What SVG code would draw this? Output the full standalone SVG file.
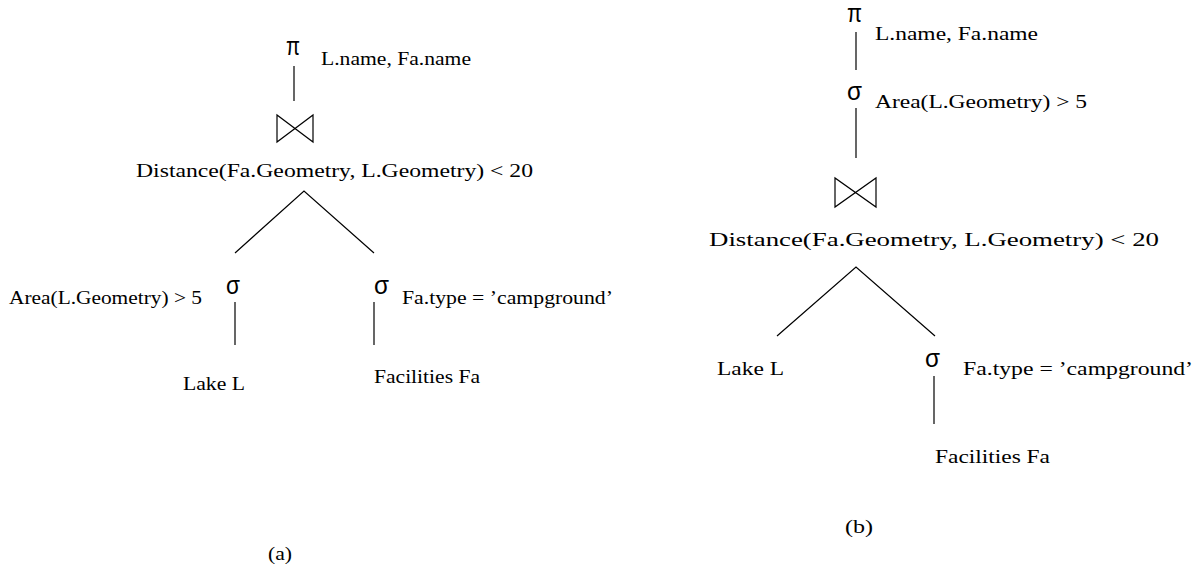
<svg xmlns="http://www.w3.org/2000/svg" width="1202" height="571" viewBox="0 0 1202 571">
  <style>
    .t { font-family: "Liberation Serif", "Times New Roman", serif; font-size: 19px; fill: #000; }
    .op { font-family: "Liberation Sans", Arial, sans-serif; font-size: 25px; fill: #000; }
    .ln { stroke: #000; stroke-width: 1.2; fill: none; }
  </style>
  <rect width="1202" height="571" fill="#fff"/>

  <!-- ===== Plan (a) ===== -->
  <g id="a-project">
    <text class="op" x="286" y="55" textLength="14" lengthAdjust="spacingAndGlyphs">π</text>
    <text class="t" x="321" y="65" textLength="150" lengthAdjust="spacingAndGlyphs">L.name, Fa.name</text>
  </g>
  <g id="a-join">
    <path class="ln" d="M277,115 L277,142 L313,115 L313,142 Z"/>
    <text class="t" x="136" y="177" textLength="397" lengthAdjust="spacingAndGlyphs">Distance(Fa.Geometry, L.Geometry) &lt; 20</text>
  </g>
  <g id="a-select-lake">
    <text class="op" x="226" y="294" textLength="14" lengthAdjust="spacingAndGlyphs">σ</text>
    <text class="t" x="9" y="304" textLength="193" lengthAdjust="spacingAndGlyphs">Area(L.Geometry) &gt; 5</text>
  </g>
  <g id="a-select-fac">
    <text class="op" x="374" y="294" textLength="15" lengthAdjust="spacingAndGlyphs">σ</text>
    <text class="t" x="402" y="304" textLength="211" lengthAdjust="spacingAndGlyphs">Fa.type = ’campground’</text>
  </g>
  <g id="a-lake">
    <text class="t" x="183" y="390" textLength="62" lengthAdjust="spacingAndGlyphs">Lake L</text>
  </g>
  <g id="a-facilities">
    <text class="t" x="374" y="383" textLength="106" lengthAdjust="spacingAndGlyphs">Facilities Fa</text>
  </g>
  <g id="a-caption">
    <text class="t" x="268" y="560" textLength="24" lengthAdjust="spacingAndGlyphs">(a)</text>
  </g>

  <!-- ===== Plan (b) ===== -->
  <g id="b-project">
    <text class="op" x="847" y="22" textLength="15" lengthAdjust="spacingAndGlyphs">π</text>
    <text class="t" x="875" y="40" textLength="163" lengthAdjust="spacingAndGlyphs">L.name, Fa.name</text>
  </g>
  <g id="b-select-lake">
    <text class="op" x="847" y="100" textLength="15" lengthAdjust="spacingAndGlyphs">σ</text>
    <text class="t" x="875" y="108" textLength="212" lengthAdjust="spacingAndGlyphs">Area(L.Geometry) &gt; 5</text>
  </g>
  <g id="b-join">
    <path class="ln" d="M835,178 L835,207 L876,178 L876,207 Z"/>
    <text class="t" x="709" y="246" textLength="450" lengthAdjust="spacingAndGlyphs">Distance(Fa.Geometry, L.Geometry) &lt; 20</text>
  </g>
  <g id="b-lake">
    <text class="t" x="717" y="375" textLength="67" lengthAdjust="spacingAndGlyphs">Lake L</text>
  </g>
  <g id="b-select-fac">
    <text class="op" x="925" y="367" textLength="15" lengthAdjust="spacingAndGlyphs">σ</text>
    <text class="t" x="963" y="375" textLength="230" lengthAdjust="spacingAndGlyphs">Fa.type = ’campground’</text>
  </g>
  <g id="b-facilities">
    <text class="t" x="935" y="463" textLength="115" lengthAdjust="spacingAndGlyphs">Facilities Fa</text>
  </g>
  <g id="b-caption">
    <text class="t" x="845" y="533" textLength="28" lengthAdjust="spacingAndGlyphs">(b)</text>
  </g>

  <!-- ===== Tree edges ===== -->
  <g id="connectors" class="ln">
    <!-- plan (a) -->
    <line x1="294" y1="66" x2="294" y2="101"/>
    <polyline points="235,253 304,191 374,253"/>
    <line x1="235" y1="302" x2="235" y2="345"/>
    <line x1="374" y1="302" x2="374" y2="345"/>
    <!-- plan (b) -->
    <line x1="856" y1="32" x2="856" y2="70"/>
    <line x1="856" y1="108" x2="856" y2="158"/>
    <polyline points="777,336 856,267 935,336"/>
    <line x1="934" y1="376" x2="934" y2="424"/>
  </g>
</svg>
